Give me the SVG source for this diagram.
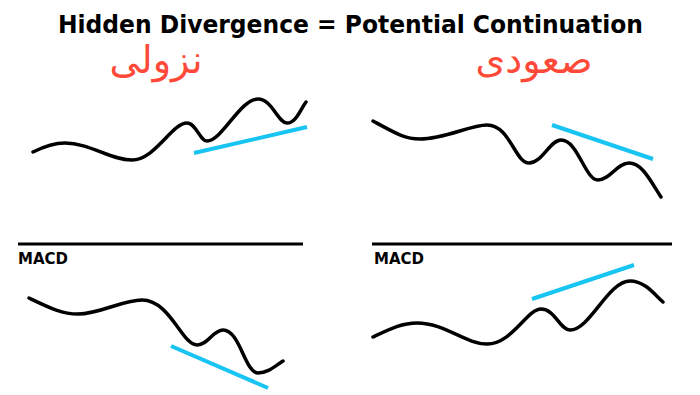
<svg xmlns="http://www.w3.org/2000/svg" width="700" height="395" viewBox="0 0 700 395">
<style>
.title{font-family:"DejaVu Sans Condensed","DejaVu Sans",sans-serif;font-weight:bold;font-size:25px;fill:#000}
.ar{font-family:"DejaVu Sans","Noto Sans",sans-serif;font-size:38px;fill:#FF4A3A}
.macd{font-family:"DejaVu Sans",sans-serif;font-weight:bold;font-size:15px;fill:#000}
.price{fill:none;stroke:#000;stroke-width:3.5;stroke-linecap:round;stroke-linejoin:round}
.trend{fill:none;stroke:#18C4F2;stroke-width:4}
.sep{stroke:#000;stroke-width:3}
</style>
<rect width="700" height="395" fill="#fff"/>
<g id="title"><text class="title" x="58" y="33" textLength="585" lengthAdjust="spacingAndGlyphs">Hidden Divergence = Potential Continuation</text></g>
<g id="label-bearish"><text class="ar" x="156" y="73" text-anchor="middle" direction="rtl">نزولی</text></g>
<g id="label-bullish"><text class="ar" x="534" y="73" text-anchor="middle" direction="rtl">صعودی</text></g>
<g id="separators">
<line class="sep" x1="18" y1="244" x2="303" y2="244"/>
<line class="sep" x1="372" y1="244" x2="672" y2="244"/>
</g>
<g id="macd-left"><text class="macd" x="18" y="264">MACD</text></g>
<g id="macd-right"><text class="macd" x="374" y="264">MACD</text></g>
<g id="price-left">
<path class="price" d="M33,152 C45,146 55,143 65,143 C90,143 110,160 132,160 C155,160 172,123 187,123 C196,123 200,141 207,141 C222,141 240,99 258,99 C272,99 278,123 287,123 C296,123 300,110 306,102"/>
</g>
<g id="price-right">
<path class="price" d="M373,121 C395,133 405,139 420,139 C445,139 470,125 487,125 C510,125 515,163 529,163 C542,163 550,140 561,140 C578,140 585,180 598,180 C610,180 617,163 629,163 C642,163 650,180 661,197"/>
</g>
<g id="macd-curve-left">
<path class="price" d="M29,298 C50,308 62,314 78,314 C100,314 122,300 142,300 C170,300 182,345 197,345 C208,345 213,330 223,330 C240,330 245,373 258,373 C268,373 275,366 283,361"/>
</g>
<g id="macd-curve-right">
<path class="price" d="M373,337 C390,329 402,323 417,323 C445,323 465,344 487,344 C512,344 527,309 541,309 C555,309 560,330 570,330 C590,330 608,281 630,281 C645,281 655,295 663,302"/>
</g>
<g id="connectors">
<line class="trend" x1="194" y1="153" x2="307" y2="127"/>
<line class="trend" x1="552" y1="125" x2="653" y2="159"/>
<line class="trend" x1="171" y1="346" x2="268" y2="388"/>
<line class="trend" x1="532" y1="299" x2="634" y2="265"/>
</g>
</svg>
